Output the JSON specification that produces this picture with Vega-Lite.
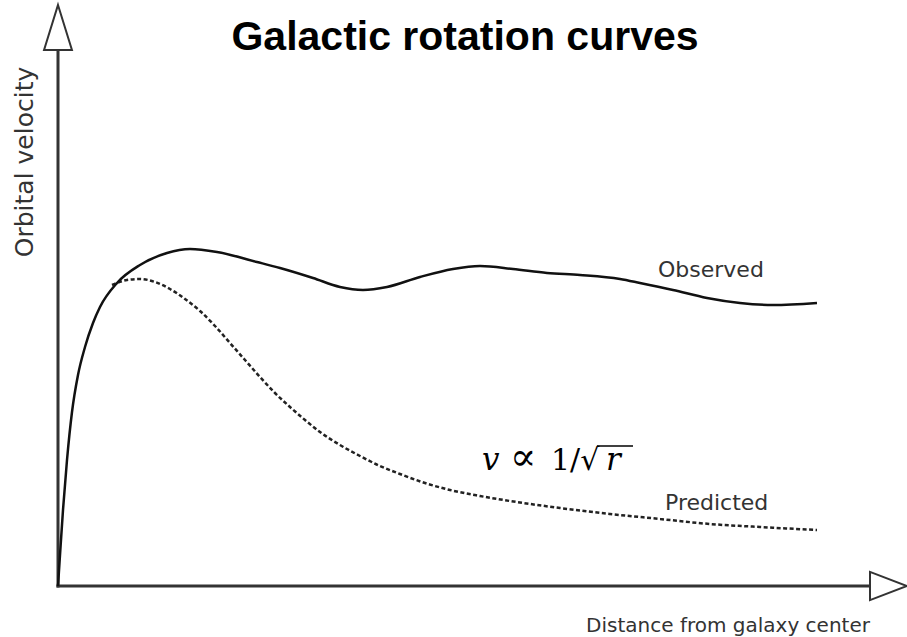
{
  "$schema": "https://vega.github.io/schema/vega-lite/v6.json",
  "width": 849,
  "height": 586,
  "autosize": {"type": "none"},
  "padding": {"left": 58, "top": 0, "right": 0, "bottom": 51},
  "background": "white",
  "config": {"view": {"stroke": null}},
  "datasets": {
    "observed": [
      {"distance": 0, "velocity": 0},
      {"distance": 2, "velocity": 31},
      {"distance": 5, "velocity": 76},
      {"distance": 9, "velocity": 126},
      {"distance": 14, "velocity": 174},
      {"distance": 20, "velocity": 211},
      {"distance": 27, "velocity": 239},
      {"distance": 35, "velocity": 263},
      {"distance": 42, "velocity": 279},
      {"distance": 59, "velocity": 303},
      {"distance": 82, "velocity": 321},
      {"distance": 109, "velocity": 333},
      {"distance": 132, "velocity": 337},
      {"distance": 159, "velocity": 334},
      {"distance": 199, "velocity": 324},
      {"distance": 222, "velocity": 318},
      {"distance": 255, "velocity": 308},
      {"distance": 282, "velocity": 299},
      {"distance": 305, "velocity": 296},
      {"distance": 329, "velocity": 299},
      {"distance": 362, "velocity": 309},
      {"distance": 395, "velocity": 317},
      {"distance": 422, "velocity": 320},
      {"distance": 455, "velocity": 317},
      {"distance": 489, "velocity": 313},
      {"distance": 522, "velocity": 311},
      {"distance": 562, "velocity": 307},
      {"distance": 582, "velocity": 303},
      {"distance": 615, "velocity": 296},
      {"distance": 649, "velocity": 288},
      {"distance": 682, "velocity": 283},
      {"distance": 715, "velocity": 281},
      {"distance": 759, "velocity": 283}
    ],
    "predicted": [
      {"distance": 54, "velocity": 301},
      {"distance": 69, "velocity": 306},
      {"distance": 82, "velocity": 307},
      {"distance": 97, "velocity": 304},
      {"distance": 112, "velocity": 297},
      {"distance": 127, "velocity": 287},
      {"distance": 142, "velocity": 275},
      {"distance": 157, "velocity": 260},
      {"distance": 172, "velocity": 243},
      {"distance": 187, "velocity": 226},
      {"distance": 202, "velocity": 209},
      {"distance": 217, "velocity": 193},
      {"distance": 232, "velocity": 179},
      {"distance": 247, "velocity": 166},
      {"distance": 262, "velocity": 154},
      {"distance": 282, "velocity": 141},
      {"distance": 302, "velocity": 130},
      {"distance": 322, "velocity": 120},
      {"distance": 342, "velocity": 112},
      {"distance": 367, "velocity": 103},
      {"distance": 392, "velocity": 96},
      {"distance": 422, "velocity": 90},
      {"distance": 452, "velocity": 85},
      {"distance": 502, "velocity": 78},
      {"distance": 552, "velocity": 72},
      {"distance": 602, "velocity": 67},
      {"distance": 652, "velocity": 62},
      {"distance": 702, "velocity": 59},
      {"distance": 759, "velocity": 56}
    ],
    "axisLines": [
      {"distance": 0, "velocity": 0, "distance2": 0, "velocity2": 536},
      {"distance": 0, "velocity": 0, "distance2": 812, "velocity2": 0}
    ],
    "formulaItalic": [
      {"distance": 424, "velocity": 116, "label": "v"},
      {"distance": 548, "velocity": 116, "label": "r"}
    ],
    "formulaUpright": [
      {"distance": 493, "velocity": 116, "label": "1/√"}
    ],
    "formulaRelation": [
      {"distance": 452, "velocity": 116, "label": "∝"}
    ],
    "radicalBar": [
      {"distance": 539, "distance2": 575, "velocity": 140}
    ]
  },
  "layer": [
    {
      "data": {"name": "axisLines"},
      "mark": {"type": "rule", "stroke": "#333333", "strokeWidth": 3, "strokeCap": "square"},
      "encoding": {
        "x": {"field": "distance", "type": "quantitative", "scale": {"domain": [0, 849], "nice": false, "zero": false}, "axis": null},
        "y": {"field": "velocity", "type": "quantitative", "scale": {"domain": [0, 586], "nice": false, "zero": false}, "axis": null},
        "x2": {"field": "distance2"},
        "y2": {"field": "velocity2"}
      }
    },
    {
      "data": {"values": [{"distance": 0, "velocity": 558.5}]},
      "mark": {
        "type": "point",
        "shape": "M0,-1L0.62,1L-0.62,1Z",
        "size": 2025,
        "filled": true,
        "fill": "white",
        "stroke": "#333333",
        "strokeWidth": 2,
        "opacity": 1
      },
      "encoding": {
        "x": {"field": "distance", "type": "quantitative"},
        "y": {"field": "velocity", "type": "quantitative"}
      }
    },
    {
      "data": {"values": [{"distance": 830.5, "velocity": 0}]},
      "mark": {
        "type": "point",
        "shape": "M1,0L-1,-0.76L-1,0.76Z",
        "size": 1369,
        "filled": true,
        "fill": "white",
        "stroke": "#333333",
        "strokeWidth": 2,
        "opacity": 1
      },
      "encoding": {
        "x": {"field": "distance", "type": "quantitative"},
        "y": {"field": "velocity", "type": "quantitative"}
      }
    },
    {
      "data": {"name": "predicted"},
      "mark": {"type": "line", "interpolate": "monotone", "stroke": "#222222", "strokeWidth": 2.5, "strokeDash": [4, 2.5]},
      "encoding": {
        "x": {"field": "distance", "type": "quantitative"},
        "y": {"field": "velocity", "type": "quantitative"}
      }
    },
    {
      "data": {"name": "observed"},
      "mark": {"type": "line", "interpolate": "monotone", "stroke": "#111111", "strokeWidth": 2.5},
      "encoding": {
        "x": {"field": "distance", "type": "quantitative"},
        "y": {"field": "velocity", "type": "quantitative"}
      }
    },
    {
      "data": {"values": [{"distance": 407, "velocity": 536, "label": "Galactic rotation curves"}]},
      "mark": {"type": "text", "font": "Liberation Sans", "fontSize": 41, "fontWeight": "bold", "align": "center", "baseline": "alphabetic", "color": "black"},
      "encoding": {
        "x": {"field": "distance", "type": "quantitative"},
        "y": {"field": "velocity", "type": "quantitative"},
        "text": {"field": "label"}
      }
    },
    {
      "data": {"values": [
        {"distance": 600, "velocity": 316, "label": "Observed"},
        {"distance": 607, "velocity": 83, "label": "Predicted"}
      ]},
      "mark": {"type": "text", "font": "DejaVu Sans", "fontSize": 22, "align": "left", "baseline": "middle", "color": "#333333"},
      "encoding": {
        "x": {"field": "distance", "type": "quantitative"},
        "y": {"field": "velocity", "type": "quantitative"},
        "text": {"field": "label"}
      }
    },
    {
      "data": {"name": "formulaItalic"},
      "mark": {"type": "text", "font": "DejaVu Serif", "fontStyle": "italic", "fontSize": 31, "align": "left", "baseline": "alphabetic", "color": "black"},
      "encoding": {
        "x": {"field": "distance", "type": "quantitative"},
        "y": {"field": "velocity", "type": "quantitative"},
        "text": {"field": "label"}
      }
    },
    {
      "data": {"name": "formulaUpright"},
      "mark": {"type": "text", "font": "DejaVu Serif", "fontSize": 30, "align": "left", "baseline": "alphabetic", "color": "black"},
      "encoding": {
        "x": {"field": "distance", "type": "quantitative"},
        "y": {"field": "velocity", "type": "quantitative"},
        "text": {"field": "label"}
      }
    },
    {
      "data": {"name": "formulaRelation"},
      "mark": {"type": "text", "font": "DejaVu Serif", "fontSize": 39, "align": "left", "baseline": "alphabetic", "color": "black"},
      "encoding": {
        "x": {"field": "distance", "type": "quantitative"},
        "y": {"field": "velocity", "type": "quantitative"},
        "text": {"field": "label"}
      }
    },
    {
      "data": {"name": "radicalBar"},
      "mark": {"type": "rule", "stroke": "black", "strokeWidth": 1.6},
      "encoding": {
        "x": {"field": "distance", "type": "quantitative"},
        "x2": {"field": "distance2"},
        "y": {"field": "velocity", "type": "quantitative"}
      }
    },
    {
      "data": {"values": [{"distance": 670, "velocity": -46, "label": "Distance from galaxy center"}]},
      "mark": {"type": "text", "font": "DejaVu Sans", "fontSize": 20, "align": "center", "baseline": "alphabetic", "color": "#333333", "clip": false},
      "encoding": {
        "x": {"field": "distance", "type": "quantitative"},
        "y": {"field": "velocity", "type": "quantitative"},
        "text": {"field": "label"}
      }
    },
    {
      "data": {"values": [{"distance": -33, "velocity": 424, "label": "Orbital velocity"}]},
      "mark": {"type": "text", "font": "DejaVu Sans", "fontSize": 25, "angle": 270, "align": "center", "baseline": "middle", "color": "#333333", "clip": false},
      "encoding": {
        "x": {"field": "distance", "type": "quantitative"},
        "y": {"field": "velocity", "type": "quantitative"},
        "text": {"field": "label"}
      }
    }
  ]
}
